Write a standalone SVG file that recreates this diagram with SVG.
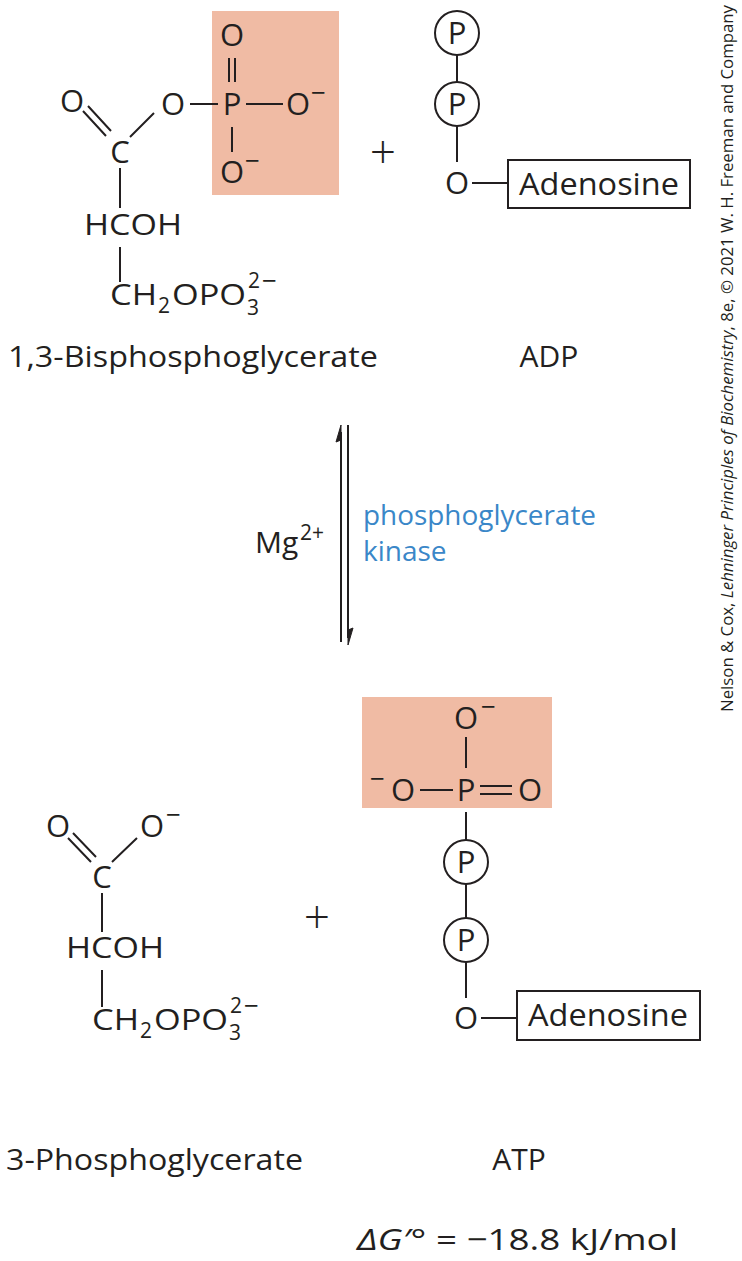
<svg xmlns="http://www.w3.org/2000/svg" width="742" height="1261" viewBox="0 0 742 1261">
<style>
text{font-family:"Open Sans","Lato",sans-serif;fill:#231f20}
.a{font-size:31px;text-anchor:middle}
.l{font-size:30px}
.s{font-size:21px}
.m{font-size:26px}
.b{stroke:#231f20;stroke-width:2;fill:none}
.hl{fill:#f0bba4}
.c{fill:#fff;stroke:#231f20;stroke-width:2}
.bl{fill:#3a87c8;font-size:28px}
.p{font-size:46px;text-anchor:middle;font-weight:300}
</style>
<rect width="742" height="1261" fill="#fff"/>
<g id="bpg">
<rect class="hl" x="212" y="11" width="127" height="184"/>
<text class="a" x="232" y="46">O</text>
<text class="a" x="232" y="115">P</text>
<text class="a" x="173" y="115">O</text>
<text class="a" x="298" y="115">O</text><text class="m" x="311" y="102">−</text>
<text class="a" x="232" y="183">O</text><text class="m" x="245" y="170">−</text>
<text class="a" x="72" y="112">O</text>
<text class="a" x="120" y="163">C</text>
<text class="l" x="84" y="235" textLength="98" lengthAdjust="spacingAndGlyphs">HCOH</text>
<text class="l" x="110" y="305" textLength="47" lengthAdjust="spacingAndGlyphs">CH</text>
<text class="s" x="158" y="313">2</text>
<text class="l" x="172" y="305" textLength="74" lengthAdjust="spacingAndGlyphs">OPO</text>
<text class="s" x="247" y="315">3</text><text class="s" x="248" y="288">2</text><text class="m" x="262" y="290">−</text>
<path class="b" d="M229 58V82M235 58V82M190 104H218M246 104H283M232 127V152M83 111L106 136M88 106L111 131M130 137L154 113M120 168V208M120 247V282"/>
<text class="l" x="8" y="367" textLength="370" lengthAdjust="spacingAndGlyphs">1,3-Bisphosphoglycerate</text>
</g>
<text class="p" x="383" y="168">+</text>
<g id="adp">
<circle class="c" cx="457" cy="33" r="22"/><text class="a" x="457" y="44">P</text>
<circle class="c" cx="457" cy="104" r="22"/><text class="a" x="457" y="115">P</text>
<text class="a" x="457" y="194">O</text>
<rect class="c" x="508" y="160" width="182" height="48"/>
<text class="a" x="599" y="195" textLength="160" lengthAdjust="spacingAndGlyphs">Adenosine</text>
<path class="b" d="M457 55V82M457 126V162M472 183H508"/>
<text class="l" x="549" y="367" text-anchor="middle">ADP</text>
</g>
<g id="connectors">
<path class="b" d="M341 432V642M348 425V638"/>
<path d="M341 425L336 442L341 440Z M348 645L353 628L348 630Z" fill="#231f20" stroke="#231f20" stroke-width="1"/>
</g>
<g id="labels">
<text class="l" x="255" y="553">Mg</text><text class="s" x="300" y="540">2+</text>
<text class="bl" x="363" y="525" textLength="233" lengthAdjust="spacingAndGlyphs">phosphoglycerate</text>
<text class="bl" x="363" y="561">kinase</text>
</g>
<g id="pg3">
<text class="a" x="58" y="837">O</text>
<text class="a" x="152" y="837">O</text><text class="m" x="166" y="824">−</text>
<text class="a" x="102" y="888">C</text>
<text class="l" x="66" y="958" textLength="98" lengthAdjust="spacingAndGlyphs">HCOH</text>
<text class="l" x="92" y="1030" textLength="47" lengthAdjust="spacingAndGlyphs">CH</text>
<text class="s" x="140" y="1038">2</text>
<text class="l" x="154" y="1030" textLength="74" lengthAdjust="spacingAndGlyphs">OPO</text>
<text class="s" x="229" y="1040">3</text><text class="s" x="230" y="1013">2</text><text class="m" x="244" y="1015">−</text>
<path class="b" d="M68 838L91 862M73 833L96 857M112 862L137 838M102 893V932M102 970V1007"/>
<text class="l" x="6" y="1170" textLength="297" lengthAdjust="spacingAndGlyphs">3-Phosphoglycerate</text>
</g>
<text class="p" x="317" y="933">+</text>
<g id="atp">
<rect class="hl" x="362" y="697" width="190" height="111"/>
<text class="a" x="466" y="729">O</text><text class="m" x="481" y="716">−</text>
<text class="a" x="466" y="801">P</text>
<text class="a" x="403" y="801">O</text><text class="m" x="370" y="788">−</text>
<text class="a" x="530" y="801">O</text>
<rect class="c" x="517" y="991" width="183" height="49"/>
<path class="b" d="M466 737V768M420 790H453M480 786H512M480 794H512M466 812V840"/>
<circle class="c" cx="466" cy="862" r="22"/><text class="a" x="466" y="873">P</text>
<circle class="c" cx="466" cy="940" r="22"/><text class="a" x="466" y="951">P</text>
<text class="a" x="466" y="1029">O</text>
<path class="b" d="M466 884V918M466 962V998M481 1018H517"/>
<text class="a" x="608" y="1026" textLength="160" lengthAdjust="spacingAndGlyphs">Adenosine</text>
<text class="l" x="519" y="1170" text-anchor="middle">ATP</text>
</g>
<text class="l" x="357" y="1250" textLength="321" lengthAdjust="spacingAndGlyphs"><tspan font-style="italic">ΔG′°</tspan> = −18.8 kJ/mol</text>
<text transform="translate(733,712) rotate(-90)" font-size="17" textLength="707" lengthAdjust="spacingAndGlyphs">Nelson &amp; Cox, <tspan font-style="italic">Lehninger Principles of Biochemistry</tspan>, 8e, © 2021 W. H. Freeman and Company</text>
</svg>
